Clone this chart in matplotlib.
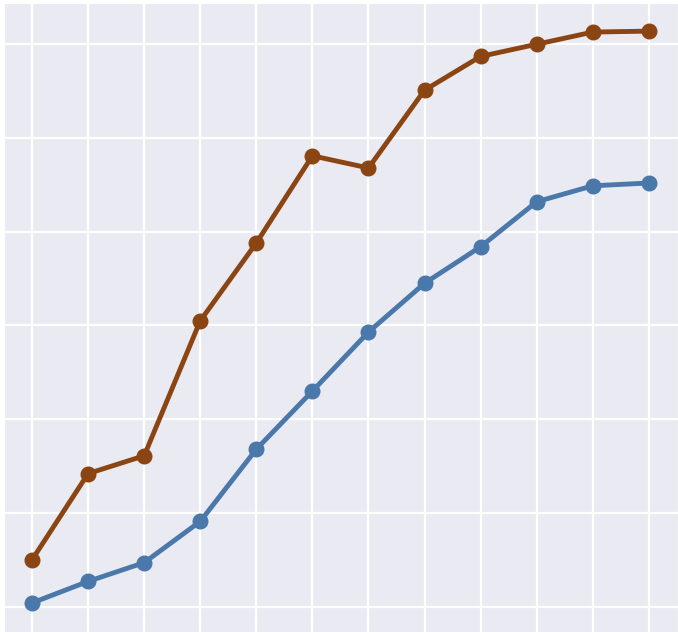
import numpy as np
import matplotlib
matplotlib.use('Agg')
import matplotlib.pyplot as plt
import seaborn as sns

sns.set_style('darkgrid')

steps = list(range(12))
brown_vals = [0.50, 1.42, 1.61, 3.05, 3.88, 4.81, 4.68, 5.51, 5.87, 6.00, 6.13, 6.14]
blue_vals = [0.04, 0.27, 0.47, 0.91, 1.68, 2.30, 2.93, 3.45, 3.84, 4.32, 4.49, 4.52]

fig = plt.figure(figsize=(6.78, 6.32), dpi=100)
ax = fig.add_axes([4/678, 0, 674/678, 629/632])

ax.plot(steps, brown_vals, color='#8b4513', lw=3.5, marker='o', ms=10.5)
ax.plot(steps, blue_vals, color='#4a78aa', lw=3.5, marker='o', ms=10.5)

ax.set_xlim(-0.5, 11.52)
ax.set_ylim(-0.27, 6.44)
ax.set_xticks(steps)
ax.set_yticks(range(7))
ax.set_xticklabels([])
ax.set_yticklabels([])
ax.grid(color='white', lw=1.6)
ax.tick_params(length=0)

fig.savefig('out.png', dpi=100)
